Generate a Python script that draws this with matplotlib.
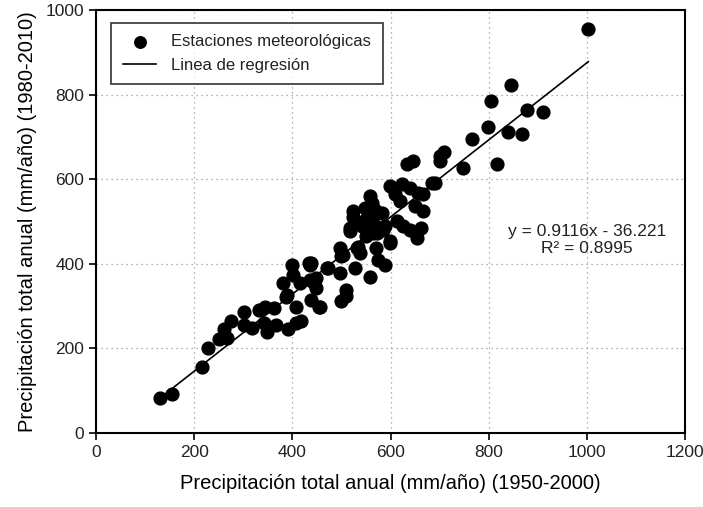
import matplotlib
matplotlib.use("Agg")
from matplotlib import pyplot as plt
import numpy as np

plt.rcParams['font.family'] = ['Liberation Sans', 'DejaVu Sans']
plt.rcParams['text.color'] = '#222222'
plt.rcParams['xtick.labelcolor'] = '#222222'
plt.rcParams['ytick.labelcolor'] = '#222222'

# estaciones: precipitacion 1950-2000 (x) vs 1980-2010 (y)
precip_1950 = [130, 155, 215, 229, 251, 266, 261, 275, 301, 302, 318, 333,
               345, 343, 348, 363, 367, 392, 407, 418, 407, 387, 380, 399,
               401, 434, 444, 438, 454, 448, 389, 416, 436, 436, 449, 473,
               497, 500, 497, 527, 510, 510, 500, 517, 534, 538, 558, 571,
               574, 589, 599, 551, 564, 470, 439, 456,
               633, 646, 701, 748, 599, 623, 640, 657, 667, 684, 691, 610,
               620, 650, 667, 558, 562, 568, 582, 548, 524, 524, 551, 541,
               517, 565, 579, 589, 572, 613, 626, 640, 653, 663, 599, 531,
               504, 585,
               816, 709, 700, 765, 798, 804, 845, 840, 867, 878, 910, 1003]
precip_1980 = [82, 92, 156, 202, 223, 224, 246, 265, 287, 256, 248, 290,
               298, 261, 238, 295, 256, 247, 299, 266, 260, 321, 355, 398,
               374, 403, 355, 315, 299, 367, 327, 355, 398, 362, 343, 390,
               438, 418, 378, 390, 339, 323, 311, 478, 441, 426, 370, 437,
               410, 398, 449, 465, 474, 390, 402, 299,
               635, 643, 643, 627, 585, 588, 580, 568, 564, 592, 592, 564,
               548, 536, 525, 560, 544, 528, 520, 532, 525, 510, 505, 489,
               485, 497, 485, 489, 473, 501, 489, 481, 461, 485, 453, 437,
               422, 481,
               637, 664, 655, 696, 724, 784, 823, 712, 706, 764, 759, 955]

slope = 0.9116
intercept = -36.221
r2 = 0.8995

fig = plt.figure(figsize=(7.03, 5.07), dpi=100)
ax = fig.add_axes([0.1366, 0.146, 0.8378, 0.834])

ax.scatter(precip_1950, precip_1980, s=85, color="black", zorder=3,
           label="Estaciones meteorológicas")
xl = np.array([min(precip_1950), max(precip_1950)])
ax.plot(xl, slope * xl + intercept, color="black", lw=1.2, zorder=2,
        label="Linea de regresión")

ax.set_xlim(0, 1200)
ax.set_ylim(0, 1000)
ax.set_xticks(range(0, 1201, 200))
ax.set_yticks(range(0, 1001, 200))
ax.grid(True, linestyle=(0, (1, 3)), color="#999999", lw=0.9)
ax.set_axisbelow(True)
ax.tick_params(direction="out", length=5, width=1.2, labelsize=12.5)
for sp in ax.spines.values():
    sp.set_linewidth(1.5)

ax.set_xlabel("Precipitación total anual (mm/año) (1950-2000)", fontsize=14.5,
              labelpad=10)
ax.set_ylabel("Precipitación total anual (mm/año) (1980-2010)", fontsize=14.5,
              labelpad=6)

ax.text(1000, 476, f"y = {slope}x - {abs(intercept)}", ha="center",
        va="center", fontsize=12.5)
ax.text(1000, 436, f"R² = {r2}", ha="center", va="center", fontsize=12.5)

leg = ax.legend(loc="upper left", bbox_to_anchor=(0.012, 0.99),
                fontsize=12, frameon=True, fancybox=False,
                edgecolor="black", borderpad=0.7, handlelength=2.0,
                handletextpad=0.9, labelspacing=0.5, markerscale=0.9)
leg.get_frame().set_linewidth(1.2)

fig.savefig("out.png", dpi=100)
